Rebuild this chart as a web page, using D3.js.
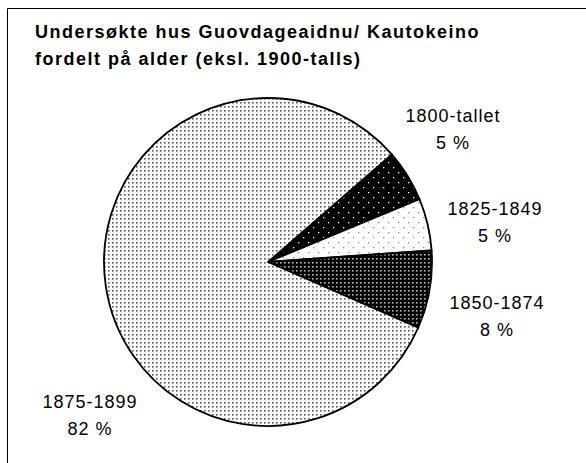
<!DOCTYPE html>
<html>
<head>
<meta charset="utf-8">
<script src="https://cdn.jsdelivr.net/npm/d3@7"></script>
<style>
  body { margin: 0; background: #fff; }
  text { font-family: "Liberation Sans", Arial, sans-serif; fill: #000; }
</style>
</head>
<body>
<div id="chart"></div>
<script>
// data: number of houses per period
const categories = ["1800-tallet", "1825-1849", "1850-1874", "1875-1899"];
const counts = [2, 2, 3, 32];
const pctLabels = ["5 %", "5 %", "8 %", "82 %"];
const titleLines = ["Undersøkte hus Guovdageaidnu/ Kautokeino", "fordelt på alder (eksl. 1900-talls)"];

const width = 586, height = 463;

const svg = d3.select("#chart").append("svg")
    .attr("width", width)
    .attr("height", height);

// patterns for the slices
const defs = svg.append("defs");

function dotPattern(id, bg, dot, step, size, offset) {
    let p = defs.append("pattern")
        .attr("id", id)
        .attr("patternUnits", "userSpaceOnUse")
        .attr("width", step)
        .attr("height", step);
    p.append("rect").attr("width", step).attr("height", step).attr("fill", bg);
    p.append("rect").attr("x", 0).attr("y", 0).attr("width", size).attr("height", size).attr("fill", dot);
    if (offset) {
        p.append("rect").attr("x", step / 2).attr("y", step / 2).attr("width", size).attr("height", size).attr("fill", dot);
    }
}
dotPattern("p0", "#000", "#fff", 10, 1.3, true);
dotPattern("p1", "#fff", "#888", 10, 1.3, true);
dotPattern("p2", "#000", "#bbb", 4, 1.6, false);
dotPattern("p3", "#fff", "#555", 4, 1.6, false);

// frame (top and left edges only visible)
svg.append("line").attr("x1", 7.5).attr("x2", width).attr("y1", 8.5).attr("y2", 8.5)
    .attr("stroke", "#000").attr("stroke-width", 1);
svg.append("line").attr("x1", 7.5).attr("x2", 7.5).attr("y1", 8.5).attr("y2", height)
    .attr("stroke", "#000").attr("stroke-width", 1);

// title
svg.append("g").selectAll("text")
    .data(titleLines)
    .join("text")
    .attr("x", 35)
    .attr("y", (d, i) => 38 + i * 27)
    .style("font-size", "18px")
    .style("font-weight", "bold")
    .style("letter-spacing", "1.5px")
    .text(d => d);

// pie
const cx = 268, cy = 262, radius = 164;
const startA = 49 * Math.PI / 180;

const pie = d3.pie()
    .sort(null)
    .value(d => d)
    .startAngle(startA)
    .endAngle(startA + 2 * Math.PI);

const arc = d3.arc().innerRadius(0).outerRadius(radius);

const arcs = pie(counts);

const g = svg.append("g").attr("transform", `translate(${cx},${cy})`);

g.selectAll("path")
    .data(arcs)
    .join("path")
    .attr("d", arc)
    .attr("fill", (d, i) => `url(#p${i})`)
    .attr("stroke", "#000")
    .attr("stroke-width", 1.8)
    .attr("stroke-linejoin", "round");

// labels
const labelPos = [
    {x: 453, y: 122},
    {x: 495, y: 215},
    {x: 497, y: 309},
    {x: 90, y: 408}
];

const labels = svg.append("g").selectAll("g")
    .data(categories)
    .join("g")
    .attr("transform", (d, i) => `translate(${labelPos[i].x},${labelPos[i].y})`);

labels.append("text")
    .attr("text-anchor", "middle")
    .style("font-size", "18px")
    .style("letter-spacing", "1px")
    .text(d => d);

labels.append("text")
    .attr("text-anchor", "middle")
    .attr("y", 27)
    .style("font-size", "18px")
    .style("letter-spacing", "1px")
    .text((d, i) => pctLabels[i]);
</script>
</body>
</html>
